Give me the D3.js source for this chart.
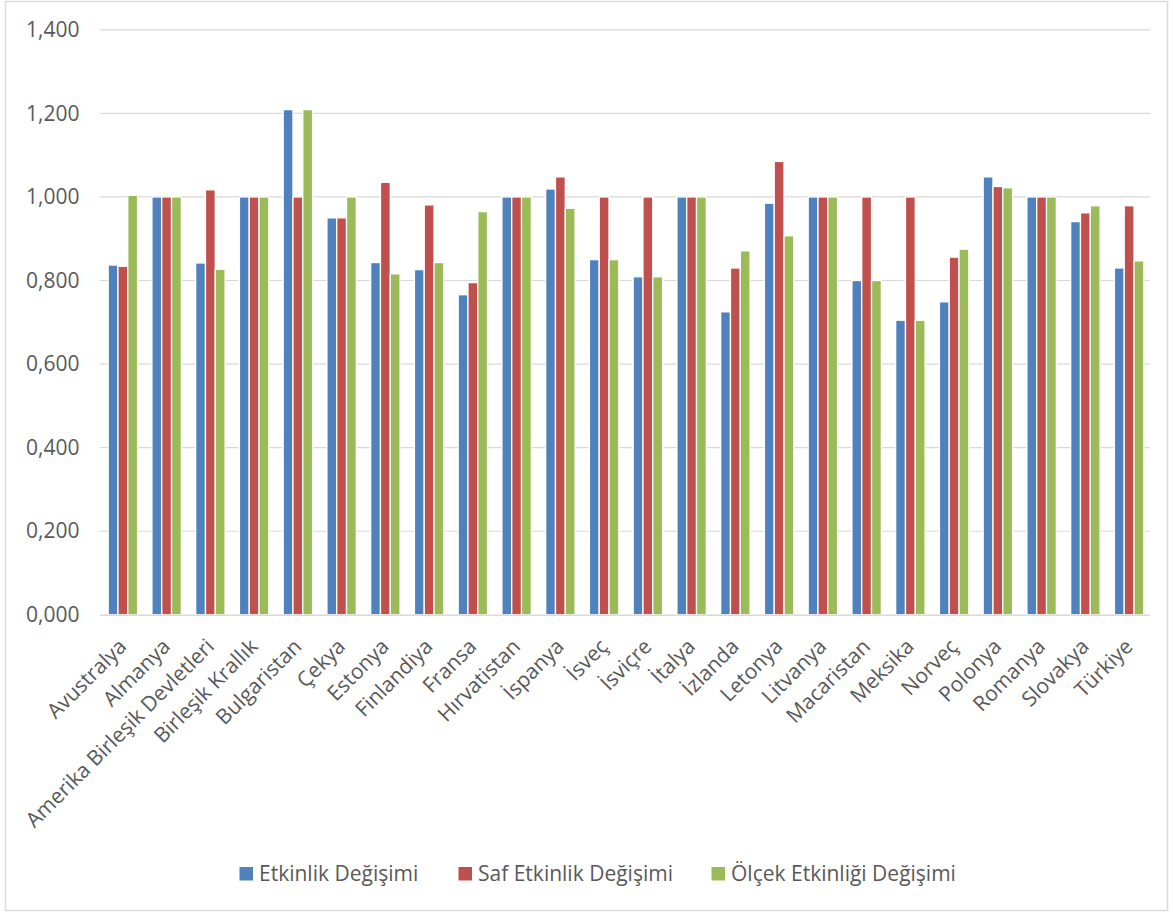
<!DOCTYPE html>
<html><head><meta charset="utf-8">
<script src="https://cdn.jsdelivr.net/npm/d3@7"></script>
<style>
html,body{margin:0;padding:0;background:#fff;}
svg{display:block;font-family:"Open Sans",sans-serif;}
</style></head>
<body><svg id="c" width="1173" height="913"></svg>
<script>
const categories = ["Avustralya","Almanya","Amerika Birleşik Devletleri","Birleşik Krallık","Bulgaristan","Çekya","Estonya","Finlandiya","Fransa","Hırvatistan","İspanya","İsveç","İsviçre","İtalya","İzlanda","Letonya","Litvanya","Macaristan","Meksika","Norveç","Polonya","Romanya","Slovakya","Türkiye"];
const seriesNames = ["Etkinlik Değişimi","Saf Etkinlik Değişimi","Ölçek Etkinliği Değişimi"];
const etkinlik = [0.837,1.000,0.842,1.000,1.209,0.950,0.843,0.826,0.766,1.000,1.019,0.850,0.809,1.000,0.725,0.985,1.000,0.800,0.705,0.749,1.048,1.000,0.941,0.830];
const safEtkinlik = [0.834,1.000,1.017,1.000,1.000,0.950,1.035,0.981,0.795,1.000,1.048,1.000,1.000,1.000,0.830,1.085,1.000,1.000,1.000,0.856,1.025,1.000,0.962,0.979];
const olcekEtkinligi = [1.004,1.000,0.827,1.000,1.209,1.000,0.816,0.843,0.965,1.000,0.973,0.850,0.809,1.000,0.871,0.907,1.000,0.800,0.705,0.875,1.022,1.000,0.979,0.847];
const tickValues = [0,0.2,0.4,0.6,0.8,1.0,1.2,1.4];
const tickLabels = ["0,000","0,200","0,400","0,600","0,800","1,000","1,200","1,400"];
const colors = ["#4f81bd","#c0504d","#9bbb59"];

const seriesValues = [etkinlik, safEtkinlik, olcekEtkinligi];
const svg = d3.select("#c");
const textColor = "#595959";
const fs = "21px";

// outer border
svg.append("rect").attr("x",5.5).attr("y",1.5).attr("width",1162).attr("height",909)
  .attr("fill","#fff").attr("stroke","#d9d9d9").attr("stroke-width",1.5);

const plotLeft = 100, plotRight = 1150, plotTop = 29.8, plotBottom = 614.8;
const x0 = d3.scaleBand().domain(categories).range([plotLeft,plotRight]).paddingInner(0).paddingOuter(0);
const groupW = 29.4;
const x1 = d3.scaleBand().domain(seriesNames).range([0,groupW]);
const y = d3.scaleLinear().domain([0,1.4]).range([plotBottom,plotTop]);

// gridlines
svg.append("g").selectAll("line").data(tickValues.filter(v=>v>0)).join("line")
  .attr("x1",plotLeft).attr("x2",plotRight).attr("y1",d=>y(d)).attr("y2",d=>y(d))
  .attr("stroke","#d9d9d9").attr("stroke-width",1.2);

// y labels
const yAxis = d3.axisLeft(y).tickValues(tickValues).tickFormat((d,i)=>tickLabels[i]).tickSize(0).tickPadding(0);
const gy = svg.append("g").attr("transform",`translate(79.5,0)`).call(yAxis);
gy.select(".domain").remove();
gy.selectAll("text").attr("fill",textColor).style("font-size",fs).style("font-family","'Open Sans',sans-serif");

// bars
const groups = svg.append("g").selectAll("g").data(categories).join("g")
  .attr("transform",d=>`translate(${x0(d) + (x0.bandwidth()-groupW)/2 + 1},0)`);
groups.selectAll("rect").data((c,i)=>seriesNames.map((s,k)=>({s,k,v:seriesValues[k][i]}))).join("rect")
  .attr("x",d=>x1(d.s)).attr("width",x1.bandwidth())
  .attr("y",d=>y(d.v)).attr("height",d=>y(0)-y(d.v))
  .attr("fill",d=>colors[d.k]).attr("stroke","#fff").attr("stroke-width",1.3);

// x axis line
svg.append("line").attr("x1",plotLeft).attr("x2",plotRight).attr("y1",plotBottom+0.5).attr("y2",plotBottom+0.5)
  .attr("stroke","#d9d9d9").attr("stroke-width",1.5);

// x labels
svg.append("g").selectAll("text").data(categories).join("text")
  .attr("transform",d=>`translate(${x0(d)+x0.bandwidth()/2+6},${plotBottom+33}) rotate(-45)`)
  .attr("text-anchor","end").attr("fill",textColor).style("font-size",fs)
  .text(d=>d);

// legend
const legendX = [239.5, 458.5, 711.5];
const lg = svg.append("g").selectAll("g").data(seriesNames).join("g")
  .attr("transform",(d,i)=>`translate(${legendX[i]},867)`);
lg.append("rect").attr("width",13.5).attr("height",13.5).attr("fill",(d,i)=>colors[i]);
lg.append("text").attr("x",19.5).attr("y",13.5).attr("fill",textColor).style("font-size",fs).text(d=>d);
</script></body></html>
